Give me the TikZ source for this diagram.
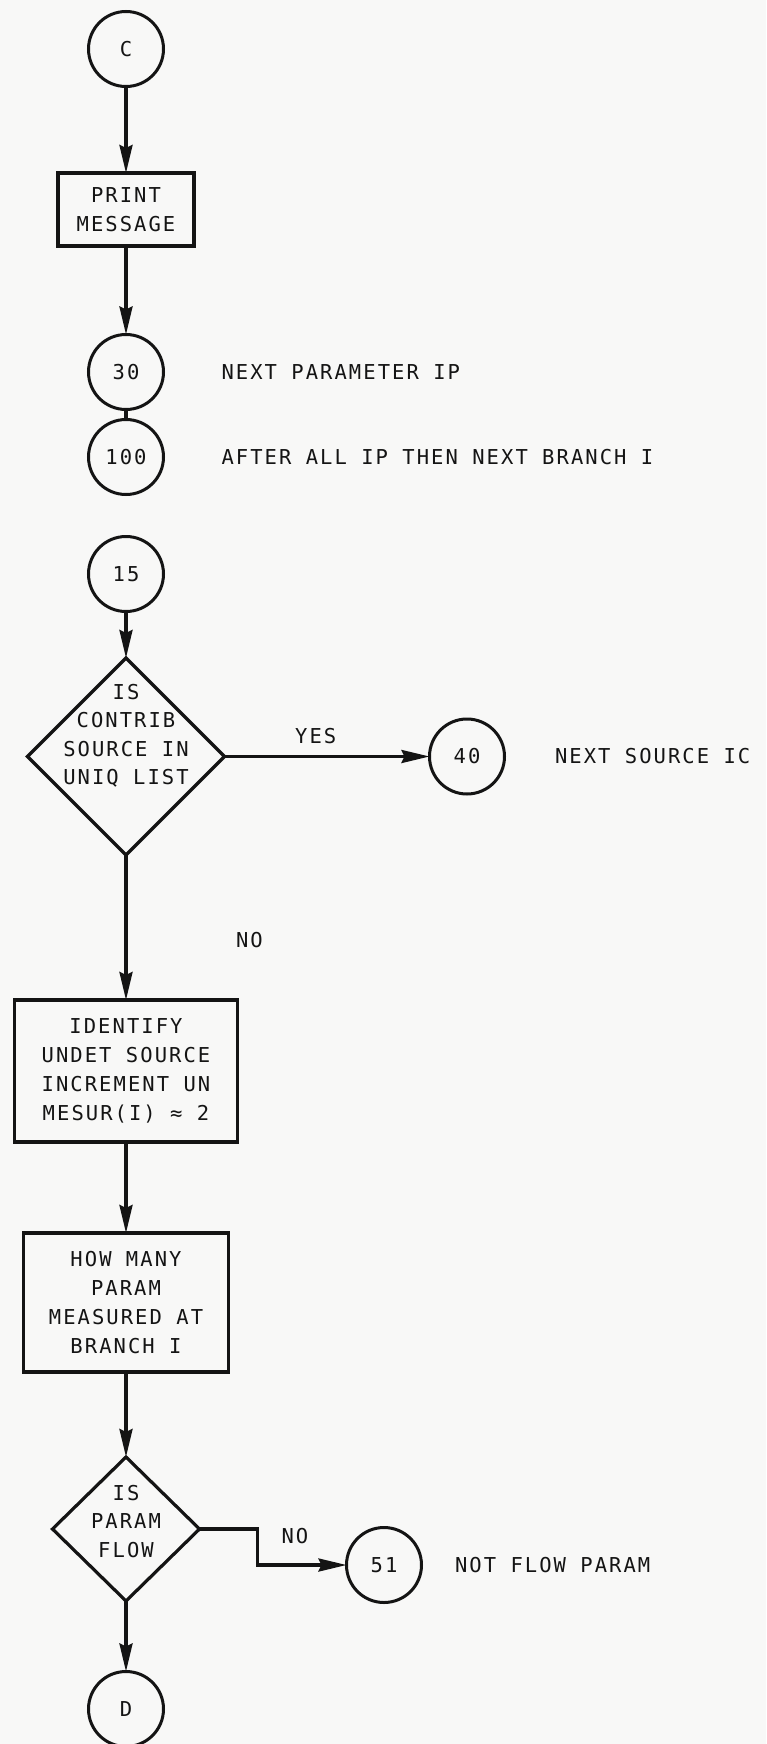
\documentclass[tikz,border=0pt]{standalone}
\usepackage{fontspec}
\usetikzlibrary{shapes.geometric, arrows.meta, positioning}
\newfontfamily\leroy{DejaVu Sans Mono}[LetterSpace=10]
\definecolor{paper}{RGB}{248, 248, 247}
\definecolor{ink}{RGB}{20, 20, 20}

\begin{document}
\begin{tikzpicture}[
            node distance=80pt,
            connector/.style={draw=ink, line width=3pt, circle, minimum size=75pt, inner sep=0pt, outer sep=0pt, text=ink, font=\leroy\fontsize{20.5}{29}\selectfont},
            procbox/.style={draw=ink, line width=3.3pt, rectangle, inner sep=0pt, outer sep=0pt, align=center, text=ink, font=\leroy\fontsize{20.5}{29}\selectfont},
            decision/.style={draw=ink, line width=3.2pt, diamond, inner sep=0pt, outer sep=0pt},
            question/.style={inner sep=0pt, align=center, text=ink, font=\leroy\fontsize{20.5}{28.5}\selectfont},
            note/.style={inner sep=0pt, outer sep=0pt, text=ink, font=\leroy\fontsize{20.5}{29}\selectfont},
            arrow/.style={-{Stealth[length=28pt, width=13pt, inset=3pt]}, line width=3.2pt, ink}
        ]
            % Page
            \fill[paper] (0,0) rectangle (766pt,-1744pt);
            \useasboundingbox (0,0) rectangle (766pt,-1744pt);

            % Main vertical flow
            \node[connector] (entry) at (126pt,-49pt) {C};
            \node[procbox, minimum width=136pt, minimum height=73pt, below=86.5pt of entry] (print) {PRINT\\MESSAGE};
            \node[connector, below=88.5pt of print] (n30) {30};
            \node[connector, below=10pt of n30] (n100) {100};
            \node[connector, below=42pt of n100] (n15) {15};
            \node[decision, minimum width=197pt, minimum height=197pt, below=46.5pt of n15,
                  label={[question, yshift=21pt]center:IS\\CONTRIB\\SOURCE IN\\UNIQ LIST}] (uniq) {};
            \node[procbox, minimum width=223pt, minimum height=142pt, below=145pt of uniq] (identify) {IDENTIFY\\UNDET SOURCE\\INCREMENT UN\\MESUR(I) ≈ 2};
            \node[procbox, minimum width=205pt, minimum height=139pt, below=91pt of identify] (howmany) {HOW MANY\\PARAM\\MEASURED AT\\BRANCH I};
            \node[decision, minimum width=147pt, minimum height=144pt, below=85pt of howmany,
                  label={[question, yshift=7.5pt]center:IS\\PARAM\\FLOW}] (flow) {};
            \node[connector, below=70.5pt of flow] (exit) {D};

            \draw[arrow] (entry) -- (print);
            \draw[arrow] (print) -- (n30);
            \draw[line width=3.2pt, ink] (n30) -- (n100);
            \draw[arrow] (n15) -- (uniq);
            \draw[arrow] (uniq) -- node[note, right=110pt, yshift=-12.5pt] (nolabel) {NO} (identify);
            \draw[arrow] (identify) -- (howmany);
            \draw[arrow] (howmany) -- (flow);
            \draw[arrow] (flow) -- (exit);

            % Side branches
            \node[connector, right=205pt of uniq] (n40) {40};
            \node[connector, right=147pt of flow, yshift=-36pt] (n51) {51};

            \draw[arrow] (uniq) -- node[note, above=13pt, pos=0.445] (yeslabel) {YES} (n40);
            \draw[arrow] (flow.east) -- ++(58pt,0) |- node[note, above=21pt, pos=0.71] (flowno) {NO} (n51);

            % Remarks
            \node[note, right=58pt of n30] (n30note) {NEXT PARAMETER IP};
            \node[note, right=58pt of n100] (n100note) {AFTER ALL IP THEN NEXT BRANCH I};
            \node[note, right=50.5pt of n40] (n40note) {NEXT SOURCE IC};
            \node[note, right=33.5pt of n51] (n51note) {NOT FLOW PARAM};

        \end{tikzpicture}
\end{document}
